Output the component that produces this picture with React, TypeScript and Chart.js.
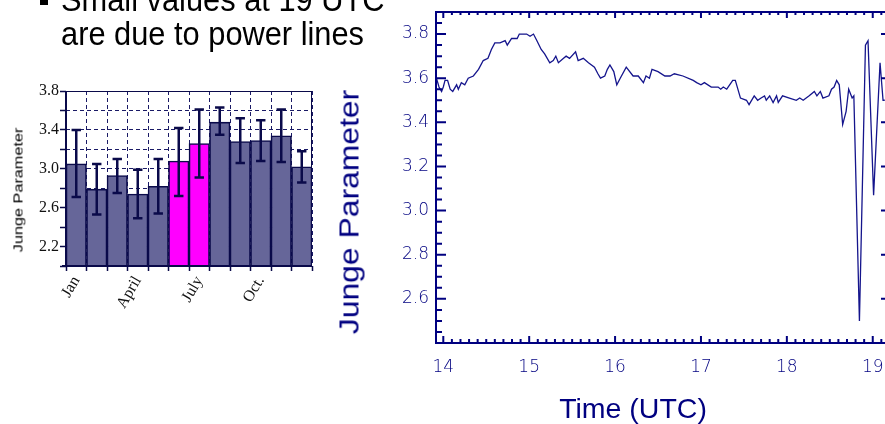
import React, { useEffect, useRef } from 'react';
import { Chart, registerables } from 'chart.js';

Chart.register(...registerables);

// ---------- left chart: monthly Junge parameter ----------
const months = ['Jan', 'Feb', 'Mar', 'April', 'May', 'June', 'July', 'Aug', 'Sep', 'Oct.', 'Nov', 'Dec'];
const shownMonths = ['Jan', 'April', 'July', 'Oct.'];
const highlightMonths = ['June', 'July'];
const monthlyMean = [3.05, 2.79, 2.93, 2.74, 2.82, 3.08, 3.26, 3.48, 3.28, 3.29, 3.34, 3.02];
const monthlyErrHigh = [3.40, 3.05, 3.10, 2.99, 3.10, 3.42, 3.61, 3.63, 3.52, 3.50, 3.61, 3.18];
const monthlyErrLow = [2.71, 2.53, 2.75, 2.49, 2.54, 2.72, 2.91, 3.35, 3.06, 3.08, 3.07, 2.86];
const leftYLabels = [2.2, 2.6, 3.0, 3.4, 3.8];

// ---------- right chart: Junge parameter vs time ----------
const timeUTC = [
  13.92, 13.95, 13.98, 14.0, 14.02, 14.05, 14.08, 14.11, 14.155, 14.175, 14.21, 14.25, 14.29, 14.35,
  14.41, 14.465, 14.52, 14.56, 14.6, 14.66, 14.72, 14.745, 14.795, 14.86, 14.885, 14.93, 14.97, 15.01,
  15.05, 15.09, 15.14, 15.18, 15.24, 15.28, 15.31, 15.34, 15.4, 15.43, 15.47, 15.54, 15.57, 15.63,
  15.69, 15.76, 15.8, 15.83, 15.88, 15.91, 15.94, 15.985, 16.02, 16.06, 16.13, 16.21, 16.27, 16.33,
  16.36, 16.4, 16.43, 16.5, 16.58, 16.64, 16.69, 16.79, 16.91, 16.95, 17.0, 17.04, 17.12, 17.2,
  17.23, 17.26, 17.3, 17.37, 17.4, 17.46, 17.53, 17.56, 17.62, 17.66, 17.7, 17.74, 17.76, 17.8,
  17.84, 17.88, 17.9, 17.95, 18.03, 18.11, 18.15, 18.19, 18.26, 18.32, 18.35, 18.39, 18.42, 18.49,
  18.52, 18.55, 18.58, 18.61, 18.65, 18.69, 18.72, 18.76, 18.78, 18.845, 18.915, 18.945, 19.01,
  19.085, 19.12, 19.14,
];
const jungeValues = [
  3.60, 3.56, 3.54, 3.56, 3.59, 3.59, 3.55, 3.54, 3.57, 3.55, 3.58, 3.57, 3.60, 3.61,
  3.64, 3.68, 3.69, 3.73, 3.76, 3.76, 3.77, 3.75, 3.78, 3.78, 3.80, 3.80, 3.80, 3.79,
  3.80, 3.77, 3.73, 3.71, 3.67, 3.68, 3.70, 3.67, 3.69, 3.70, 3.69, 3.72, 3.68, 3.69,
  3.67, 3.65, 3.62, 3.60, 3.61, 3.64, 3.66, 3.63, 3.57, 3.60, 3.65, 3.61, 3.61, 3.58,
  3.61, 3.60, 3.64, 3.63, 3.61, 3.61, 3.62, 3.61, 3.59, 3.58, 3.57, 3.58, 3.56, 3.56,
  3.55, 3.56, 3.55, 3.59, 3.59, 3.51, 3.50, 3.48, 3.52, 3.50, 3.51, 3.52, 3.50, 3.52,
  3.49, 3.52, 3.49, 3.52, 3.51, 3.50, 3.51, 3.50, 3.52, 3.54, 3.52, 3.54, 3.51, 3.52,
  3.55, 3.56, 3.59, 3.57, 3.39, 3.45, 3.55, 3.51, 3.52, 2.50, 3.75, 3.77, 3.07,
  3.67, 3.50, 3.50,
];
const hourTicks = [14, 15, 16, 17, 18, 19];
const rightYTicks = [2.6, 2.8, 3.0, 3.2, 3.4, 3.6, 3.8];

const NAVY = '#000080';
const DARK = '#0a0a4a';
const SERIF = "'Liberation Serif', 'Times New Roman', serif";
const THIN = "'DejaVu Sans', 'Liberation Sans', sans-serif";

const leftPlugin = {
  id: 'leftDecor',
  afterDatasetsDraw(chart: any) {
    const { ctx, chartArea: a, scales } = chart;
    const meta = chart.getDatasetMeta(0);
    const ys = scales.y;
    ctx.save();
    ctx.strokeStyle = DARK;
    ctx.lineWidth = 2.5;
    meta.data.forEach((bar: any, i: number) => {
      const x = bar.x;
      const yh = ys.getPixelForValue(monthlyErrHigh[i]);
      const yl = ys.getPixelForValue(monthlyErrLow[i]);
      ctx.beginPath();
      ctx.moveTo(x, yh); ctx.lineTo(x, yl);
      ctx.moveTo(x - 4.7, yh); ctx.lineTo(x + 4.7, yh);
      ctx.moveTo(x - 4.7, yl); ctx.lineTo(x + 4.7, yl);
      ctx.stroke();
    });
    // frame
    ctx.lineWidth = 1;
    ctx.beginPath();
    ctx.moveTo(a.left, a.top + 0.5); ctx.lineTo(a.right, a.top + 0.5);
    ctx.moveTo(a.right - 0.5, a.top); ctx.lineTo(a.right - 0.5, a.bottom);
    ctx.stroke();
    ctx.lineWidth = 2;
    ctx.beginPath();
    ctx.moveTo(a.left, a.top); ctx.lineTo(a.left, a.bottom);
    ctx.moveTo(a.left - 4, a.bottom); ctx.lineTo(a.right, a.bottom);
    ctx.stroke();
    ctx.restore();
  },
};

const rightPlugin = {
  id: 'rightDecor',
  afterDatasetsDraw(chart: any) {
    const { ctx, chartArea: a, scales } = chart;
    const xs = scales.x;
    const ys = scales.y;
    ctx.save();
    ctx.strokeStyle = NAVY;
    ctx.lineWidth = 2;
    ctx.strokeRect(a.left, a.top, a.right - a.left, a.bottom - a.top);
    ctx.beginPath();
    // y ticks every 0.05, major every 0.2
    for (let k = Math.ceil(ys.min * 20); k <= Math.floor(ys.max * 20); k++) {
      const y = ys.getPixelForValue(k / 20);
      const major = k % 4 === 0;
      ctx.moveTo(a.left, y); ctx.lineTo(a.left + (major ? 10 : 6), y);
      if (major) { ctx.moveTo(a.right, y); ctx.lineTo(a.right - 6, y); }
    }
    // x ticks every 0.1 h, major every hour
    for (let k = Math.ceil(xs.min * 10); k <= Math.floor(xs.max * 10); k++) {
      const x = xs.getPixelForValue(k / 10);
      const major = k % 10 === 0;
      ctx.moveTo(x, a.top); ctx.lineTo(x, a.top + (major ? 6 : 3));
      ctx.moveTo(x, a.bottom); ctx.lineTo(x, a.bottom - (major ? 7 : 4));
    }
    ctx.stroke();
    ctx.restore();
  },
};

export default function App() {
  const leftRef = useRef<HTMLCanvasElement>(null);
  const rightRef = useRef<HTMLCanvasElement>(null);

  useEffect(() => {
    const left = new Chart(leftRef.current as HTMLCanvasElement, {
      type: 'bar',
      data: {
        labels: months,
        datasets: [
          {
            data: monthlyMean,
            backgroundColor: months.map((m) => (highlightMonths.includes(m) ? '#ff00ff' : '#666699')),
            borderColor: DARK,
            borderWidth: 1.6,
            barPercentage: 1,
            categoryPercentage: 1,
          },
        ],
      },
      options: {
        animation: false,
        responsive: false,
        maintainAspectRatio: false,
        layout: { padding: { top: 11, right: 18, left: 0, bottom: 0 } },
        plugins: { legend: { display: false }, tooltip: { enabled: false } },
        scales: {
          x: {
            grid: {
              display: true, offset: true, color: '#1a1a66', lineWidth: 1,
              drawTicks: true, tickLength: 5, tickColor: DARK, tickWidth: 1.5, tickBorderDash: [],
            },
            border: { display: false, dash: [4, 3] },
            ticks: {
              autoSkip: false, maxRotation: 60, minRotation: 60, padding: 2, color: '#111',
              font: { family: SERIF, size: 16 },
              callback: (_v: any, i: number) => (shownMonths.includes(months[i]) ? months[i] : ''),
            },
            afterFit: (s: any) => { s.height = 74; s.paddingLeft = 0; s.paddingRight = 0; },
          },
          y: {
            min: 2.0, max: 3.8,
            grid: {
              color: '#1a1a66', lineWidth: 1, drawTicks: true, tickLength: 6,
              tickColor: DARK, tickWidth: 1.5, tickBorderDash: [],
            },
            border: { display: false, dash: [4, 3] },
            ticks: {
              stepSize: 0.2, padding: 1, color: '#111', autoSkip: false,
              font: { family: SERIF, size: 16 },
              callback: (v: any) => (leftYLabels.some((l) => Math.abs(l - Number(v)) < 1e-6) ? Number(v).toFixed(1) : ''),
            },
            afterFit: (s: any) => { s.width = 66; s.paddingTop = 0; s.paddingBottom = 0; },
          },
        },
      },
      plugins: [leftPlugin],
    } as any);

    const right = new Chart(rightRef.current as HTMLCanvasElement, {
      type: 'line',
      data: {
        datasets: [
          {
            data: timeUTC.map((t, i) => ({ x: t, y: jungeValues[i] })),
            borderColor: '#14148c',
            borderWidth: 1.3,
            pointRadius: 0,
            tension: 0,
            fill: false,
          },
        ],
      },
      options: {
        animation: false,
        responsive: false,
        maintainAspectRatio: false,
        layout: { padding: { top: 12, right: 13, left: 0, bottom: 0 } },
        plugins: { legend: { display: false }, tooltip: { enabled: false } },
        scales: {
          x: {
            type: 'linear', min: 13.915, max: 19.166,
            grid: { display: false, drawTicks: false },
            border: { display: false },
            afterBuildTicks: (s: any) => { s.ticks = hourTicks.map((v) => ({ value: v })); },
            ticks: {
              padding: 14, color: NAVY, maxRotation: 0, autoSkip: false,
              font: { family: THIN, size: 17, weight: '200' },
              callback: (v: any) => String(v),
            },
            afterFit: (s: any) => { s.height = 81; s.paddingLeft = 0; s.paddingRight = 0; },
          },
          y: {
            min: 2.4, max: 3.9,
            grid: { display: false, drawTicks: false },
            border: { display: false },
            afterBuildTicks: (s: any) => { s.ticks = rightYTicks.map((v) => ({ value: v })); },
            ticks: {
              padding: 7, color: NAVY, autoSkip: false,
              font: { family: THIN, size: 17, weight: '200' },
              callback: (v: any) => Number(v).toFixed(1),
            },
            afterFit: (s: any) => { s.width = 106; s.paddingTop = 0; s.paddingBottom = 0; },
          },
        },
      },
      plugins: [rightPlugin],
    } as any);

    return () => { left.destroy(); right.destroy(); };
  }, []);

  const sans = "'Liberation Sans', Arial, Helvetica, sans-serif";

  return (
    <div style={{ position: 'fixed', left: 0, top: 0, width: 885, height: 424, overflow: 'hidden', background: '#fff' }}>
      <canvas ref={leftRef} width={330} height={260} style={{ position: 'absolute', left: 0, top: 80, width: 330, height: 260 }} />
      <canvas ref={rightRef} width={570} height={424} style={{ position: 'absolute', left: 330, top: 0, width: 570, height: 424 }} />

      <div style={{ position: 'absolute', left: 40, top: -3, width: 8, height: 8, background: '#000' }} />
      <div style={{
        position: 'absolute', left: 61, top: -16, fontFamily: sans, fontSize: 30.8, lineHeight: '32.4px',
        color: '#000', whiteSpace: 'nowrap', transform: 'scaleY(1.05)', transformOrigin: '0 0',
      }}>
        <div>Small values at 19 UTC</div>
        <div>are due to power lines</div>
      </div>

      <div style={{
        position: 'absolute', left: 17.5, top: 189.5, fontFamily: sans, fontSize: 13, lineHeight: 1,
        color: '#000', whiteSpace: 'nowrap', transform: 'translate(-50%, -50%) rotate(-90deg) scaleX(1.25)',
      }}>Junge Parameter</div>

      <div style={{
        position: 'absolute', left: 350, top: 211.5, fontFamily: sans, fontSize: 27, lineHeight: 1,
        color: NAVY, whiteSpace: 'nowrap', transform: 'translate(-50%, -50%) rotate(-90deg) scaleX(1.18)',
      }}>Junge Parameter</div>

      <div style={{
        position: 'absolute', left: 633, top: 394.3, fontFamily: sans, fontSize: 28.5, lineHeight: '28px',
        color: NAVY, whiteSpace: 'nowrap', transform: 'translateX(-50%)',
      }}>Time (UTC)</div>
    </div>
  );
}
